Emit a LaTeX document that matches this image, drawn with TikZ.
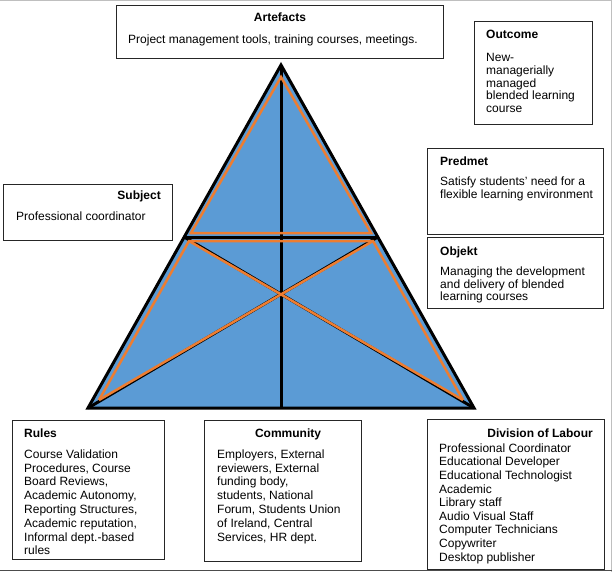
\documentclass[tikz,border=0pt]{standalone}
\usepackage{fontspec}
\setmainfont{Liberation Sans}
\definecolor{triblue}{HTML}{5B9BD5}
\definecolor{triorange}{HTML}{ED7D31}
\tikzset{
  infobox/.style={draw=black!85, line width=1.3pt, inner sep=0pt, anchor=north west},
  boxtitle/.style={font=\bfseries\fontsize{12}{14}\selectfont, inner sep=0pt},
  boxtext/.style={font=\fontsize{12}{13.8}\selectfont, align=left, inner sep=0pt, anchor=north west},
  tighttext/.style={boxtext, font=\fontsize{12}{12.7}\selectfont},
}
\begin{document}
\begin{tikzpicture}[x=1pt,y=-1pt]
      \useasboundingbox (0,0) rectangle (612,572);
      \draw[black!25, line width=1pt] (0,0.5) -- (611.5,0.5) -- (611.5,572);
      \draw[black!70, line width=1.5pt] (0,570.5) -- (612,570.5);
      \path
        (281,65) coordinate (apex)
        (88,408) coordinate (bl)
        (474,408) coordinate (br)
        (281,408) coordinate (bm)
        (184.2,237) coordinate (ml)
        (377.8,237) coordinate (mr);
      \path
        (281,77) coordinate (oapex)
        (191,233) coordinate (otl)
        (371,233) coordinate (otr)
        (189,241) coordinate (oml)
        (373,241) coordinate (omr)
        (99,400) coordinate (obl)
        (463,400) coordinate (obr);
      \fill[triblue] (apex) -- (bl) -- (br) -- cycle;
      \begin{scope}[line width=3pt]
        \draw[line join=miter] (apex) -- (bl) -- (br) -- cycle;
        \draw (ml) to (mr);
        \draw (apex) to (bm);
        \draw (ml) to (br);
        \draw (mr) to (bl);
      \end{scope}
      \begin{scope}[triorange, line width=2.5pt]
        \draw (oapex) -- (otl) -- (otr) -- cycle;
        \draw (obl) -- (oml) -- (omr) -- (obr);
        \draw (obl) to (omr);
        \draw (oml) to (obr);
      \end{scope}
      % boxes
      \node[infobox, minimum width=327pt, minimum height=53pt] (artefacts) at (116,5) {};
      \node[boxtitle, anchor=base] (artefactstitle) at (280,22) {Artefacts};
      \node[boxtext] (artefactstext) at (128,35) {Project management tools, training courses, meetings.};
      \node[infobox, minimum width=118pt, minimum height=103pt] (outcome) at (474,21) {};
      \node[boxtitle, anchor=base west] (outcometitle) at (486,38.6) {Outcome};
      \node[tighttext] (outcometext) at (486,53.4) {New-\\managerially\\managed\\blended learning\\course};
      \node[infobox, minimum width=176pt, minimum height=86pt] (predmet) at (427,148) {};
      \node[boxtitle, anchor=base west] (predmettitle) at (440,165.3) {Predmet};
      \node[tighttext] (predmettext) at (440,176.7) {Satisfy students’ need for a\\flexible learning environment};
      \node[infobox, minimum width=176pt, minimum height=71pt] (objekt) at (427,237) {};
      \node[boxtitle, anchor=base west] (objekttitle) at (440,255.3) {Objekt};
      \node[tighttext] (objekttext) at (440,266.7) {Managing the development\\and delivery of blended\\learning courses};
      \node[infobox, minimum width=169pt, minimum height=56pt] (subject) at (3,184) {};
      \node[boxtitle, anchor=base east] (subjecttitle) at (161,199.3) {Subject};
      \node[boxtext] (subjecttext) at (16,211.7) {Professional coordinator};
      \node[infobox, minimum width=152pt, minimum height=139pt] (rules) at (12,420) {};
      \node[boxtitle, anchor=base west] (rulestitle) at (24,437) {Rules};
      \node[boxtext] (rulestext) at (24,449.4) {Course Validation\\Procedures, Course\\Board Reviews,\\Academic Autonomy,\\Reporting Structures,\\Academic reputation,\\Informal dept.-based\\rules};
      \node[infobox, minimum width=157pt, minimum height=141pt] (community) at (204,420) {};
      \node[boxtitle, anchor=base] (communitytitle) at (288,437) {Community};
      \node[boxtext] (communitytext) at (217,449.4) {Employers, External\\reviewers, External\\funding body,\\students, National\\Forum, Students Union\\of Ireland, Central\\Services, HR dept.};
      \node[infobox, minimum width=177pt, minimum height=150pt] (labour) at (427,419) {};
      \node[boxtitle, anchor=base east] (labourtitle) at (593,437) {Division of Labour};
      \node[boxtext, font=\fontsize{12}{13.6}\selectfont] (labourtext) at (439,443.4) {Professional Coordinator\\Educational Developer\\Educational Technologist\\Academic\\Library staff\\Audio Visual Staff\\Computer Technicians\\Copywriter\\Desktop publisher};
    \end{tikzpicture}
\end{document}
